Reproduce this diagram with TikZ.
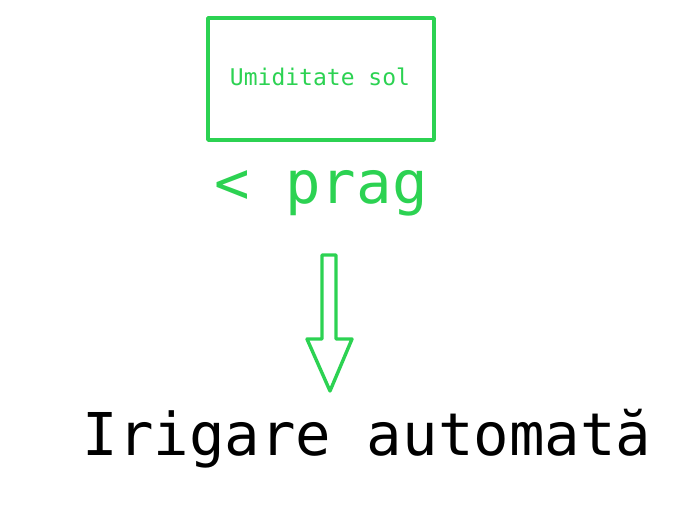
\documentclass[tikz,border=0pt]{standalone}
\usepackage{fontspec}
\setmonofont{DejaVu Sans Mono}
\definecolor{grn}{RGB}{44,210,82}
\begin{document}
\begin{tikzpicture}[x=1pt,y=-1pt,
  gline/.style={draw=grn,line width=3.4pt,line join=round},
  small/.style={font=\ttfamily\fontsize{23}{26}\selectfont,text=grn},
  big/.style={font=\ttfamily\fontsize{59}{66}\selectfont}]
\useasboundingbox (0,0) rectangle (697,527);
\node[gline,minimum width=226pt,minimum height=122pt,inner sep=0pt] (box) at (321,79) {};
\node[small,anchor=base] (lbl) at (320,86) {Umiditate sol};
\node[big,text=grn,anchor=base] (prag) at (321,203) {< prag};
\node[big,text=black,anchor=base] (irig) at (367,455) {Irigare automată};
\coordinate (tip) at (330,391);
\draw[gline] (322,255) -- (336,255) -- (336,339) -- (352,339) -- (tip) -- (307,339) -- (322,339) -- cycle;
\end{tikzpicture}
\end{document}
